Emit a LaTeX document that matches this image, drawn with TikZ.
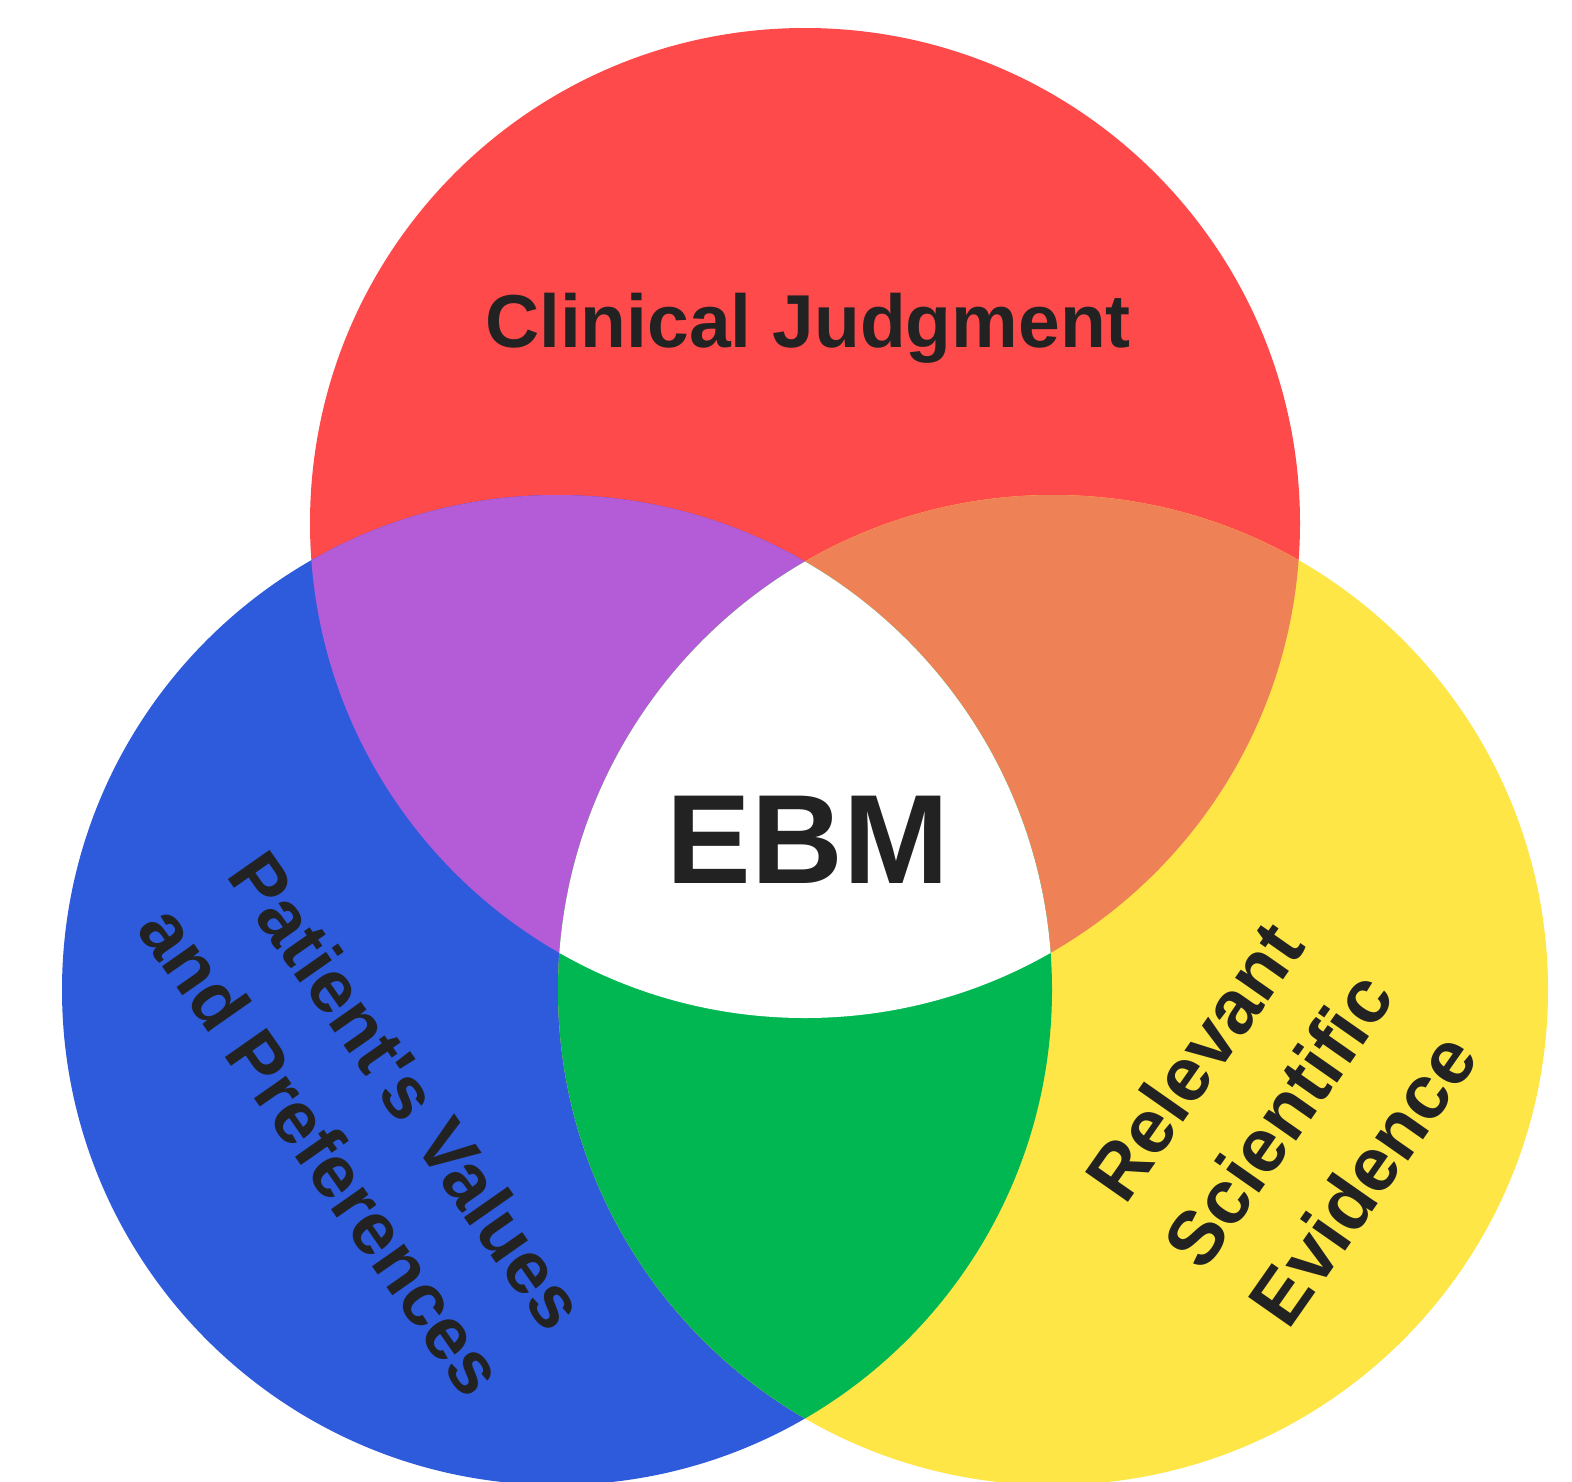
\documentclass[tikz,border=0pt]{standalone}
\usepackage{fontspec}
\setmainfont{Liberation Sans}
\definecolor{cjred}{HTML}{FF4A4C}
\definecolor{pvblue}{HTML}{2E5BDB}
\definecolor{sey}{HTML}{FEE646}
\definecolor{mixpurple}{HTML}{B45BD8}
\definecolor{mixorange}{HTML}{EF8157}
\definecolor{mixgreen}{HTML}{00B751}
\definecolor{ink}{HTML}{222222}
\begin{document}
\begin{tikzpicture}[x=1pt,y=-1pt,
  label text/.style={text=ink, font=\bfseries, inner sep=0pt}]
\useasboundingbox[fill=white] (0,0) rectangle (1572,1481);
% circle centres and radius
\coordinate (cR) at (805,523);
\coordinate (cB) at (557,990);
\coordinate (cY) at (1053,990);
\def\rad{495}
% single circles
\fill[cjred] (cR) circle[radius=\rad];
\fill[pvblue] (cB) circle[radius=\rad];
\fill[sey] (cY) circle[radius=\rad];
% pairwise overlaps
\begin{scope}
  \clip (cR) circle[radius=\rad];
  \fill[mixpurple] (cB) circle[radius=\rad];
  \fill[mixorange] (cY) circle[radius=\rad];
\end{scope}
\begin{scope}
  \clip (cB) circle[radius=\rad];
  \fill[mixgreen] (cY) circle[radius=\rad];
\end{scope}
% common centre
\begin{scope}
  \clip (cR) circle[radius=\rad];
  \clip (cB) circle[radius=\rad];
  \fill[white] (cY) circle[radius=\rad];
\end{scope}
% labels
\node[label text, anchor=base, font=\fontsize{75}{90}\selectfont\bfseries] (cj) at (808,347) {Clinical Judgment};
\node[label text, anchor=base, font=\fontsize{127}{140}\selectfont\bfseries] (ebm) at (808,883) {EBM};
\node[label text, align=center, rotate=-55, font=\fontsize{74}{104}\selectfont\bfseries] (pv) at (365,1120) {Patient\textquotesingle s Values\\and Preferences};
\node[label text, align=center, rotate=55, font=\fontsize{76}{103}\selectfont\bfseries] (rse) at (1278,1120) {Relevant\\Scientific\\Evidence};
\end{tikzpicture}
\end{document}
